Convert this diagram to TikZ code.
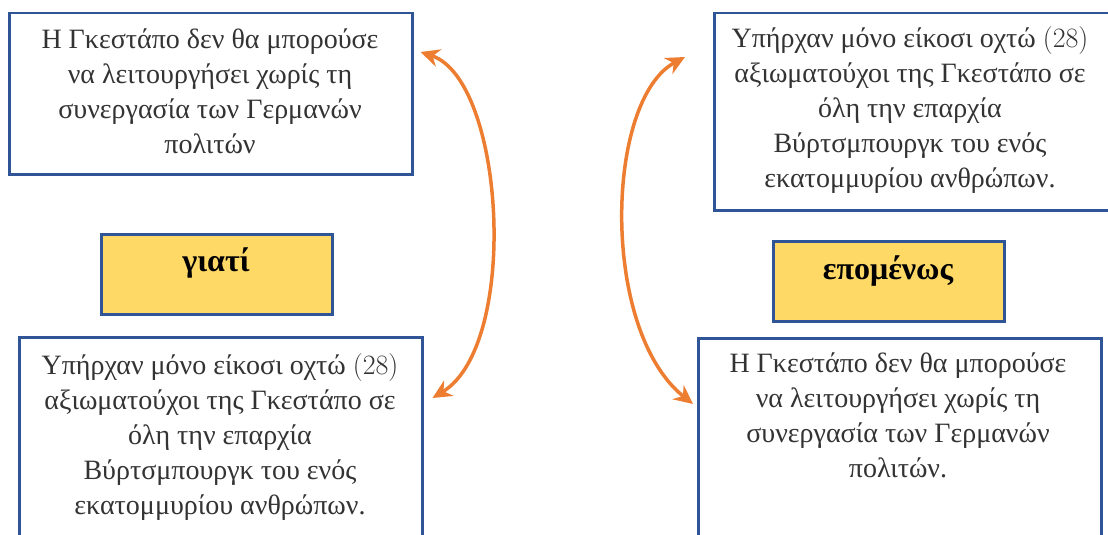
\documentclass[tikz,border=0pt]{standalone}
\usepackage{fontspec}
\setmainfont{Liberation Serif}
\usetikzlibrary{arrows.meta,calc}
\definecolor{boxblue}{HTML}{2F5597}
\definecolor{boxyellow}{HTML}{FFD966}
\definecolor{arroworange}{HTML}{ED7D31}
\definecolor{txtgray}{HTML}{333333}
\newcommand{\twentyeight}{\scalebox{1.125}{$(28)$}}
\tikzset{
  whitebox/.style={draw=boxblue, line width=2.5pt, fill=white, anchor=north west, inner sep=0pt},
  yellowbox/.style={draw=boxblue, line width=2.5pt, fill=boxyellow, anchor=north west, inner sep=0pt},
  txt/.style={align=center, text=txtgray, font=\fontsize{28}{35}\selectfont, inner sep=0pt},
  boldtxt/.style={text=black, font=\fontsize{32}{36}\selectfont\bfseries, inner sep=0pt},
  curvearrow/.style={draw=arroworange, line width=3.5pt, {Stealth[length=19pt,width=18pt]}-{Stealth[length=19pt,width=18pt]}}
}
\begin{document}
\begin{tikzpicture}[x=1pt,y=-1pt]
\useasboundingbox (0,0) rectangle (1108,535);
\clip (0,0) rectangle (1108,535);
% left column
\node[whitebox, minimum width=403pt, minimum height=161pt] (A) at (8,12) {};
\node[txt, anchor=north] (At) at (210,29) {Η Γκεστάπο δεν θα μπορούσε\\να λειτουργήσει χωρίς τη\\συνεργασία των Γερμανών\\πολιτών};
\node[yellowbox, minimum width=231pt, minimum height=80pt] (Y1) at (100,233) {};
\node[boldtxt] (Y1t) at (216,263) {γιατί};
\node[whitebox, minimum width=403pt, minimum height=230pt] (B) at (18,336) {};
\node[txt, anchor=north] (Bt) at (220,353) {Υπήρχαν μόνο είκοσι οχτώ \twentyeight\\αξιωματούχοι της Γκεστάπο σε\\όλη την επαρχία\\Βύρτσμπουργκ του ενός\\εκατομμυρίου ανθρώπων.};
% right column
\node[whitebox, minimum width=410pt, minimum height=197pt] (C) at (713,12) {};
\node[txt, anchor=north] (Ct) at (910,26) {Υπήρχαν μόνο είκοσι οχτώ \twentyeight\\αξιωματούχοι της Γκεστάπο σε\\όλη την επαρχία\\Βύρτσμπουργκ του ενός\\εκατομμυρίου ανθρώπων.};
\node[yellowbox, minimum width=231pt, minimum height=80pt] (Y2) at (772,240) {};
\node[boldtxt] (Y2t) at (888,271) {επομένως};
\node[whitebox, minimum width=403pt, minimum height=230pt] (D) at (697,337) {};
\node[txt, anchor=north] (Dt) at (898,353) {Η Γκεστάπο δεν θα μπορούσε\\να λειτουργήσει χωρίς τη\\συνεργασία των Γερμανών\\πολιτών.};
% arrows
\coordinate (a1) at ($(A.north east)+(7,40)$);
\coordinate (a2) at ($(B.north east)+(9,62)$);
\draw[curvearrow] (a1) .. controls (505,80) and (520,345) .. (a2);
\coordinate (c1) at ($(C.north west)+(-28,45)$);
\coordinate (c2) at ($(D.north west)+(-4,67)$);
\draw[curvearrow] (c1) .. controls (605,100) and (600,330) .. (c2);
\end{tikzpicture}
\end{document}
